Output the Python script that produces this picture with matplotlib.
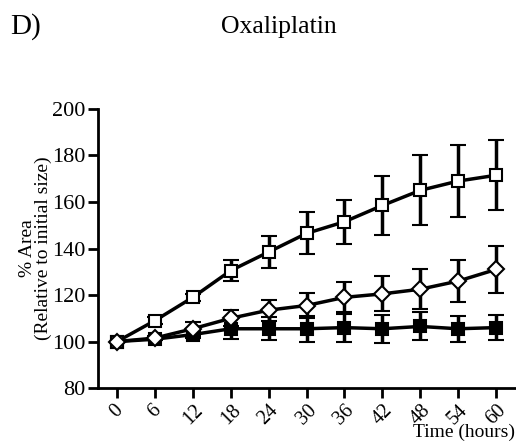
import matplotlib.pyplot as plt

plt.rcParams['font.family'] = 'Liberation Serif'

# Time points (hours)
hours = [0, 6, 12, 18, 24, 30, 36, 42, 48, 54, 60]

# Open squares
open_sq = [100, 109, 119, 130.5, 138.5, 146.5, 151.5, 158.5, 165, 169, 171.5]
open_sq_err = [0, 1.5, 1.5, 4.5, 7, 9, 9.5, 12.5, 15, 15.5, 15]

# Open diamonds
diamond = [100, 101.5, 105.5, 110, 113.5, 115.5, 119, 120.5, 122.5, 126, 131]
diamond_err = [0, 1, 3, 3.5, 4.5, 5.5, 6.5, 7.5, 8.5, 9, 10]

# Filled squares
filled_sq = [100, 101, 103, 105.5, 105.5, 105.5, 106, 105.5, 106.5, 105.5, 106]
filled_sq_err = [0, 0.5, 1.5, 4.5, 5, 5.5, 6, 6, 6, 5.5, 5.5]

fig = plt.figure(figsize=(5.16, 4.43), dpi=100)
ax = fig.add_axes([0.19, 0.124, 0.808, 0.63])

common = dict(color='black', linewidth=2.5, elinewidth=2.5, capsize=6,
              capthick=2.5, markeredgewidth=1.5)

ax.errorbar(hours, filled_sq, yerr=filled_sq_err, marker='s', markersize=8,
            markerfacecolor='black', markeredgecolor='black', zorder=2, **common)
ax.errorbar(hours, open_sq, yerr=open_sq_err, marker='s', markersize=8.5,
            markerfacecolor='white', markeredgecolor='black', zorder=3, **common)
ax.errorbar(hours, diamond, yerr=diamond_err, marker='D', markersize=8,
            markerfacecolor='white', markeredgecolor='black', zorder=4, **common)

ax.set_xlim(-3, 63)
ax.set_ylim(80, 200)
ax.set_xticks(hours)
ax.set_xticklabels([str(h) for h in hours], rotation=45, ha='center', fontsize=14.5)
ax.set_yticks(range(80, 201, 20))
ax.tick_params(axis='y', labelsize=16, width=2, length=7, pad=2)
ax.tick_params(axis='x', width=2, length=7, pad=2)

for s in ['top', 'right']:
    ax.spines[s].set_visible(False)
for s in ['left', 'bottom']:
    ax.spines[s].set_linewidth(2)

ax.set_ylabel('% Area\n(Relative to initial size)', fontsize=14, linespacing=0.9,
              labelpad=0)

fig.text(0.998, 0.005, 'Time (hours)', fontsize=14, ha='right', va='bottom')
fig.text(0.02, 0.94, 'D)', fontsize=21, va='center')
fig.text(0.54, 0.94, 'Oxaliplatin', fontsize=18.5, va='center', ha='center')

fig.savefig('out.png', dpi=100)
